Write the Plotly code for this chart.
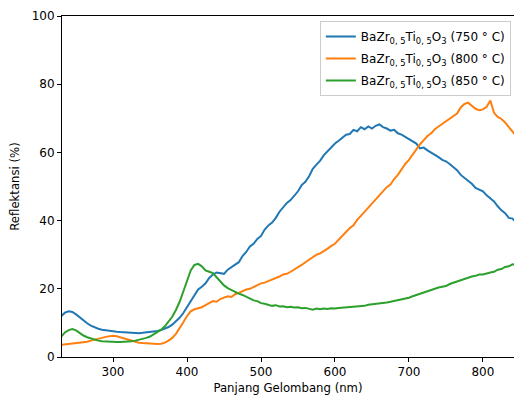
import plotly.graph_objects as go

wavelength = list(range(230, 855, 5))

refl_750 = [12.0, 13.0, 13.4, 13.2, 12.5, 11.6, 10.7, 9.9, 9.2, 8.7,
            8.3, 8.0, 7.8, 7.6, 7.5, 7.4, 7.3, 7.2, 7.1, 7.0,
            7.0, 7.0, 7.1, 7.2, 7.3, 7.4, 7.6, 7.9, 8.3, 8.8,
            9.5, 10.4, 11.5, 12.9, 14.6, 16.5, 18.4, 19.8, 20.6, 21.6,
            23.2, 24.2, 24.8, 24.5, 24.4, 25.6, 26.3, 27.0, 27.8, 29.6,
            30.8, 32.4, 33.2, 34.6, 35.5, 37.4, 38.6, 39.4, 40.8, 42.6,
            43.8, 45.2, 46.0, 47.4, 48.6, 50.4, 51.4, 53.0, 55.2, 56.4,
            57.6, 59.2, 60.4, 61.6, 62.6, 63.4, 64.2, 65.2, 65.4, 66.6,
            66.2, 67.4, 66.8, 67.6, 67.0, 67.8, 68.2, 67.4, 67.0, 66.4,
            66.6, 65.6, 65.2, 64.6, 63.8, 63.2, 62.6, 61.2, 61.4, 60.6,
            60.0, 59.4, 58.6, 57.8, 57.4, 56.6, 55.8, 54.8, 53.4, 52.6,
            51.8, 50.8, 49.6, 49.2, 48.6, 47.4, 46.4, 45.6, 44.2, 43.0,
            42.2, 40.8, 40.6, 39.4, 38.8]

refl_800 = [3.6, 3.7, 3.8, 3.9, 4.0, 4.1, 4.3, 4.5, 4.8, 5.0,
            5.3, 5.6, 5.9, 6.1, 6.2, 6.1, 5.8, 5.4, 5.0, 4.7,
            4.4, 4.2, 4.1, 4.0, 3.9, 3.8, 3.8, 3.9, 4.2, 4.8,
            5.6, 6.8, 8.4, 10.2, 12.0, 13.4, 14.0, 14.2, 14.6, 15.2,
            15.8, 16.4, 16.2, 17.0, 17.4, 17.8, 17.6, 18.4, 18.8, 19.4,
            19.8, 20.0, 20.6, 21.0, 21.6, 21.8, 22.2, 22.6, 23.0, 23.6,
            24.2, 24.4, 25.0, 25.6, 26.2, 27.0, 27.8, 28.6, 29.2, 30.0,
            30.4, 31.0, 31.8, 32.6, 33.2, 34.4, 35.6, 36.8, 37.8, 38.6,
            40.2, 41.4, 42.6, 43.8, 44.8, 46.2, 47.2, 48.6, 49.8, 50.6,
            52.2, 53.4, 55.2, 56.6, 57.8, 59.4, 60.8, 62.4, 63.6, 64.8,
            65.6, 66.8, 67.6, 68.4, 69.2, 70.0, 70.6, 71.4, 73.2, 74.2,
            74.6, 73.8, 72.8, 72.4, 72.6, 73.4, 75.2, 71.6, 70.4, 69.8,
            68.8, 67.4, 66.0, 64.8, 64.0]

refl_850 = [6.0, 7.2, 7.9, 8.2, 7.8, 7.0, 6.3, 5.8, 5.4, 5.1,
            4.8, 4.6, 4.5, 4.4, 4.4, 4.4, 4.4, 4.4, 4.5, 4.6,
            4.8, 5.0, 5.3, 5.6, 6.0, 6.6, 7.2, 8.0, 9.0, 10.4,
            11.8, 13.8, 16.2, 19.2, 22.4, 25.4, 27.0, 27.3, 26.6, 25.4,
            25.0, 24.6, 23.4, 22.2, 21.0, 20.2, 19.6, 19.0, 18.6, 18.2,
            17.6, 17.2, 16.6, 16.4, 15.8, 15.6, 15.4, 15.0, 15.2, 14.8,
            14.9, 14.6, 14.7, 14.5, 14.6, 14.3, 14.4, 14.1, 13.9, 14.2,
            14.0, 14.2, 14.1, 14.3, 14.2, 14.4, 14.5, 14.4, 14.7, 14.6,
            14.9, 15.0, 15.0, 15.3, 15.4, 15.6, 15.6, 15.8, 16.0, 16.2,
            16.4, 16.6, 17.0, 17.2, 17.4, 17.8, 18.2, 18.6, 19.0, 19.2,
            19.6, 20.0, 20.4, 20.6, 20.8, 21.4, 21.8, 22.2, 22.6, 22.8,
            23.2, 23.6, 23.8, 24.2, 24.2, 24.6, 24.8, 25.0, 25.6, 25.8,
            26.4, 26.6, 27.2, 27.0, 27.2]

labels = ["BaZr<sub>0, 5</sub>Ti<sub>0, 5</sub>O<sub>3</sub> (750 \u00b0 C)",
          "BaZr<sub>0, 5</sub>Ti<sub>0, 5</sub>O<sub>3</sub> (800 \u00b0 C)",
          "BaZr<sub>0, 5</sub>Ti<sub>0, 5</sub>O<sub>3</sub> (850 \u00b0 C)"]
colors = ["#1f77b4", "#ff7f0e", "#2ca02c"]

fig = go.Figure()
for i, (ys, name, c) in enumerate(zip([refl_750, refl_800, refl_850], labels, colors)):
    fig.add_trace(go.Scatter(x=wavelength, y=ys, mode="lines", name=name,
                             legendgroup=f"g{i}",
                             line=dict(color=c, width=2)))

fig.update_layout(
    width=514, height=399,
    margin=dict(l=62, r=0, t=16, b=42, autoexpand=False),
    plot_bgcolor="white", paper_bgcolor="white",
    font=dict(family="DejaVu Sans", size=12, color="black"),
    showlegend=True,
    legend=dict(x=0.993, xanchor="right", y=0.985, yanchor="top",
                bgcolor="rgba(255,255,255,0.8)", bordercolor="#cccccc",
                borderwidth=1, itemwidth=30, traceorder="grouped",
                tracegroupgap=3,
                font=dict(family="DejaVu Sans", size=12)),
    xaxis=dict(range=[231, 842], tickvals=[300, 400, 500, 600, 700, 800],
               showline=True, linecolor="black", linewidth=1, mirror=True,
               ticks="outside", ticklen=4, tickcolor="black", showgrid=False,
               zeroline=False, automargin=False,
               tickfont=dict(family="DejaVu Sans", size=12),
               title=dict(text="Panjang Gelombang (nm)", standoff=5,
                          font=dict(family="DejaVu Sans", size=11.7))),
    yaxis=dict(range=[0, 100], tickvals=[0, 20, 40, 60, 80, 100],
               showline=True, linecolor="black", linewidth=1,
               ticks="outside", ticklen=4, tickcolor="black", showgrid=False,
               zeroline=False, automargin=False,
               tickfont=dict(family="DejaVu Sans", size=12),
               title=dict(text="Reflektansi (%)", standoff=9,
                          font=dict(family="DejaVu Sans", size=11.7))),
)

fig.write_html("out.html", config={"displayModeBar": False},
               post_script="document.body.style.margin='0';document.body.style.overflow='hidden';")
